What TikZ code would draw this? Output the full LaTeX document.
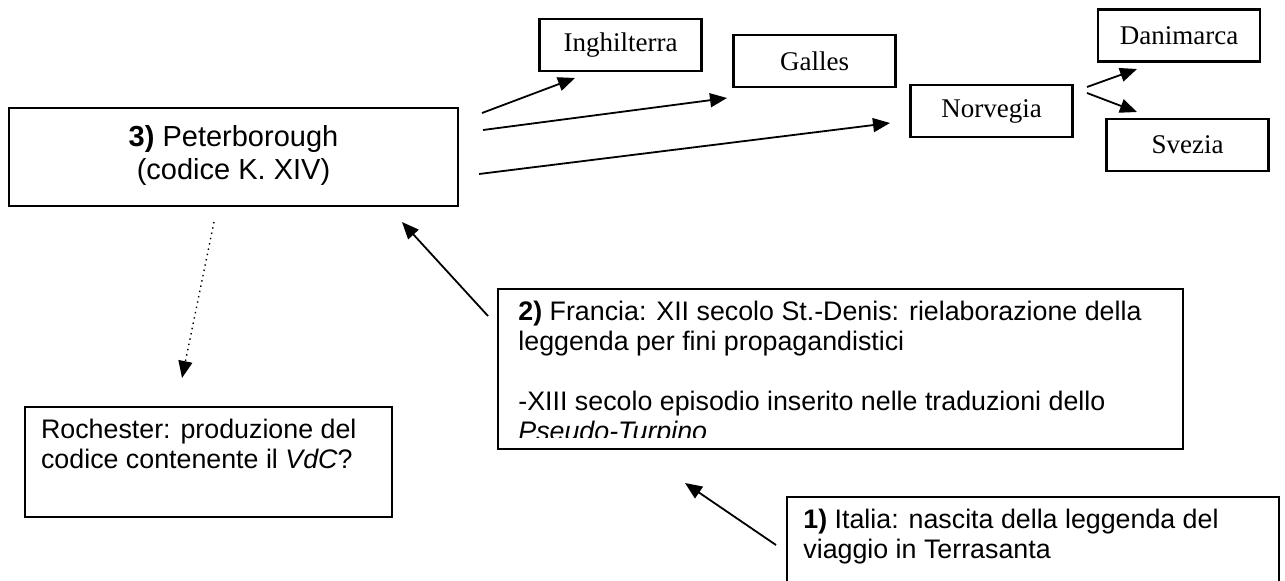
\documentclass[tikz,border=0pt]{standalone}
\usepackage{fontspec}
\setmainfont{Liberation Serif}
\newfontfamily\arialfont{Liberation Sans}
\usetikzlibrary{arrows.meta,fit}
\begin{document}
\begin{tikzpicture}[x=0.5pt,y=-0.5pt,
  box/.style={draw, line width=1.1pt, inner sep=0pt},
  smallbox/.style={draw, line width=1.1pt, inner sep=0pt, minimum width=81pt, minimum height=26pt, font=\fontsize{13.5}{15}\selectfont},
  txt/.style={anchor=base west, inner sep=0pt, font=\arialfont\fontsize{13.4}{15}\selectfont},
  conn/.style={line width=0.9pt, -{Triangle[length=8.5pt,width=7pt]}},
  dconn/.style={line width=0.7pt, dotted, -{Triangle[length=8.5pt,width=7pt]}}]
\useasboundingbox (0,0) rectangle (1285,580);

% Peterborough
\node[box, fit={(9,108) (458,206)}] (peter) {};
\node[align=center, inner sep=0pt, font=\arialfont\fontsize{14.5}{16.5}\selectfont] (petert) at (233.5,155) {\textbf{3)} Peterborough\\(codice K. XIV)};

% small boxes
\node[smallbox] (ingh) at (620.5,45) {Inghilterra};
\node[smallbox] (gall) at (814.5,61) {Galles};
\node[smallbox] (norv) at (991.5,111) {Norvegia};
\node[smallbox] (dani) at (1179,35.5) {Danimarca};
\node[smallbox] (svez) at (1187.5,145) {Svezia};

% box 2
\node[box, fit={(498,289) (1183,449)}] (fran) {};
\node[txt] (fran1) at (518,320) {\textbf{2)} Francia: XII secolo St.-Denis: rielaborazione della};
\node[txt] (fran2) at (518,350) {leggenda per fini propagandistici};
\node[txt] (fran3) at (518,410) {-XIII secolo episodio inserito nelle traduzioni dello};
\begin{scope}
\clip (498,289) rectangle (1183,437);
\node[txt] (fran4) at (518,440) {\textit{Pseudo-Turpino}};
\end{scope}

% Rochester
\node[box, fit={(25,407) (392,517)}] (roch) {};
\node[txt] (roch1) at (40.7,438) {Rochester: produzione del};
\node[txt] (roch2) at (40.7,468) {codice contenente il \textit{VdC}?};

% box 1
\node[box, fit={(787,497) (1279,600)}] (ital) {};
\node[txt] (ital1) at (803,528) {\textbf{1)} Italia: nascita della leggenda del};
\node[txt] (ital2) at (803,558) {viaggio in Terrasanta};

% connector end points
\coordinate (pa1) at (482,113); \coordinate (ia) at (575,78);
\coordinate (pa2) at (483,130); \coordinate (ga) at (727,98);
\coordinate (pa3) at (479,174); \coordinate (na) at (890,123);
\coordinate (nd) at (1087,87); \coordinate (da) at (1137,69);
\coordinate (ns) at (1087,93); \coordinate (sa) at (1137,112);
\coordinate (pr) at (214,222); \coordinate (ra) at (182,378);
\coordinate (fp) at (488,316); \coordinate (pf) at (402,222);
\coordinate (if) at (776,545); \coordinate (fi) at (685,483);

\draw[conn] (pa1) -- (ia);
\draw[conn] (pa2) -- (ga);
\draw[conn] (pa3) -- (na);
\draw[conn] (nd) -- (da);
\draw[conn] (ns) -- (sa);
\draw[dconn] (pr) -- (ra);
\draw[conn] (fp) -- (pf);
\draw[conn] (if) -- (fi);
\end{tikzpicture}
\end{document}
